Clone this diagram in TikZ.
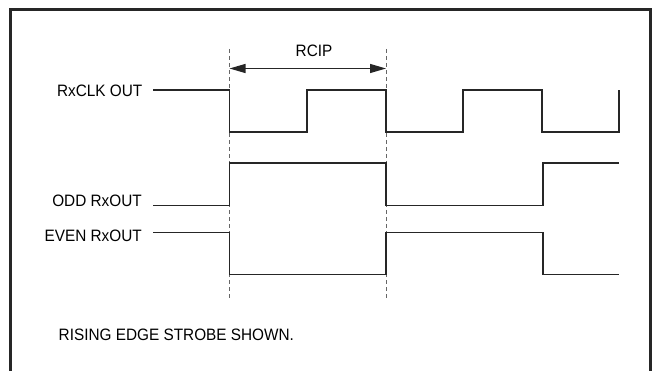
\documentclass[tikz,border=0pt]{standalone}
\usepackage{fontspec}
\setmainfont{Liberation Sans}[FakeStretch=0.93]
\usetikzlibrary{arrows.meta}
\tikzset{
  lbl/.style={inner sep=0pt, font=\fontsize{16.5}{19}\selectfont},
  sig/.style={line width=1.3pt, black!85},
  guide/.style={line width=0.9pt, black!60, dash pattern=on 4pt off 3pt},
  frame/.style={line width=2.4pt, black!85},
  dim/.style={line width=1.2pt, black!85, {Triangle[length=16pt,width=9pt]}-{Triangle[length=16pt,width=9pt]}}
}
\begin{document}
\begin{tikzpicture}[x=1pt,y=-1pt]
\useasboundingbox (0,0) rectangle (655,371);
% frame
\draw[frame] (10.5,372) -- (10.5,9.5) -- (650.5,9.5) -- (650.5,372);
% guides
\coordinate (g1t) at (229.5,49); \coordinate (g1b) at (229.5,298);
\coordinate (g2t) at (386,49);   \coordinate (g2b) at (386,298);
\draw[guide] (g1t) -- (g1b);
\draw[guide] (g2t) -- (g2b);
% RCIP
\coordinate (a1) at (229.5,68.5); \coordinate (a2) at (386,68.5);
\draw[dim] (a1) -- (a2);
\node[lbl] (rcip) at (314,51) {RCIP};
% labels
\node[lbl, anchor=east] (clk) at (142.5,91) {RxCLK OUT};
\node[lbl, anchor=east] (odd) at (142,200.8) {ODD RxOUT};
\node[lbl, anchor=east] (even) at (142,235.8) {EVEN RxOUT};
\node[lbl, anchor=west] (note) at (58.5,334.5) {RISING EDGE STROBE SHOWN.};
% RxCLK OUT
\draw[sig] (153,90) -- (229.5,90) -- (229.5,132) -- (307,132) -- (307,90) -- (386,90)
  -- (386,132) -- (463,132) -- (463,90) -- (542,90) -- (542,132) -- (619,132) -- (619,90);
% ODD RxOUT
\draw[sig] (153,205.5) -- (229.5,205.5) -- (229.5,163) -- (386,163) -- (386,205.5)
  -- (543,205.5) -- (543,163) -- (619,163);
% EVEN RxOUT
\draw[sig] (153,232.5) -- (229.5,232.5) -- (229.5,274.5) -- (386,274.5) -- (386,232.5)
  -- (543,232.5) -- (543,274.5) -- (619,274.5);
\end{tikzpicture}
\end{document}
